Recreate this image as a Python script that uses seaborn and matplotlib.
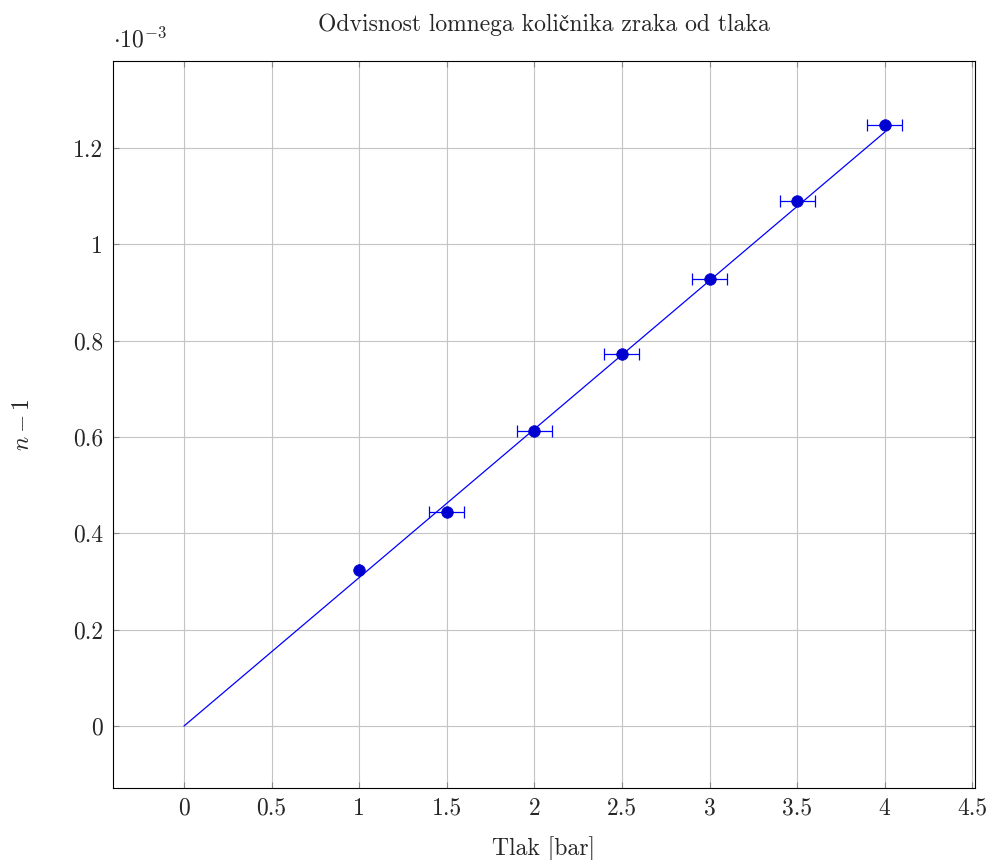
import numpy as np
import pandas as pd
import matplotlib
matplotlib.use("Agg")
import matplotlib.pyplot as plt
import seaborn as sns

# measured data (n - 1 in units of 1e-3)
tlak = [1.0, 1.5, 2.0, 2.5, 3.0, 3.5, 4.0]
n_minus_1 = [0.324, 0.444, 0.612, 0.772, 0.928, 1.090, 1.248]
tlak_err = [0.0, 0.1, 0.1, 0.1, 0.1, 0.1, 0.1]

# linear fit through origin
fit_x = [0.0, 4.0]
fit_y = [0.0, 1.233]

xticks = [0, 0.5, 1, 1.5, 2, 2.5, 3, 3.5, 4, 4.5]
yticks = [0, 0.2, 0.4, 0.6, 0.8, 1.0, 1.2]

sns.set_theme(style="white")
plt.rcParams['font.family'] = ['cmr10', 'STIXGeneral', 'DejaVu Serif']
plt.rcParams['mathtext.fontset'] = 'cm'
plt.rcParams['axes.formatter.use_mathtext'] = True
plt.rcParams['axes.unicode_minus'] = False

FS = 17

df = pd.DataFrame({'tlak': tlak, 'n': n_minus_1, 'err': tlak_err})
fit = pd.DataFrame({'x': fit_x, 'y': fit_y})

fig = plt.figure(figsize=(9.89, 8.6), dpi=100)
ax = fig.add_axes([0.1143, 0.0837, 0.8715, 0.8453])

sns.lineplot(data=fit, x='x', y='y', ax=ax, color='blue', linewidth=0.9, zorder=3)
ax.errorbar(df['tlak'], df['n'], xerr=df['err'], fmt='none', ecolor='blue',
            elinewidth=0.9, capsize=4, capthick=0.9, zorder=4)
sns.scatterplot(data=df, x='tlak', y='n', ax=ax, color='#0000d0', s=70,
                edgecolor='#0000d0', linewidth=0.5, zorder=5)

ax.set_xlim(-0.405, 4.515)
ax.set_ylim(-0.1287, 1.3806)
ax.set_xticks(xticks)
ax.set_xticklabels(['0', '0.5', '1', '1.5', '2', '2.5', '3', '3.5', '4', '4.5'])
ax.set_yticks(yticks)
ax.set_yticklabels(['0', '0.2', '0.4', '0.6', '0.8', '1', '1.2'])

ax.grid(True, color='#c4c4c4', linewidth=0.8)
ax.set_axisbelow(True)
ax.tick_params(direction='in', length=4.5, width=0.8, color='#888888',
               labelsize=FS, top=True, right=True, bottom=True, left=True, pad=7)
for s in ax.spines.values():
    s.set_color('black')
    s.set_linewidth(0.8)

ax.set_xlabel('Tlak [bar]', fontsize=FS, labelpad=12)
ax.set_ylabel(r'$n-1$', fontsize=FS, labelpad=28)
ax.set_title('Odvisnost lomnega količnika zraka od tlaka', fontsize=FS, pad=22)
ax.text(0.0, 1.012, r'$\cdot 10^{-3}$', transform=ax.transAxes, fontsize=FS,
        ha='left', va='bottom')

fig.savefig('out.png', dpi=100)
